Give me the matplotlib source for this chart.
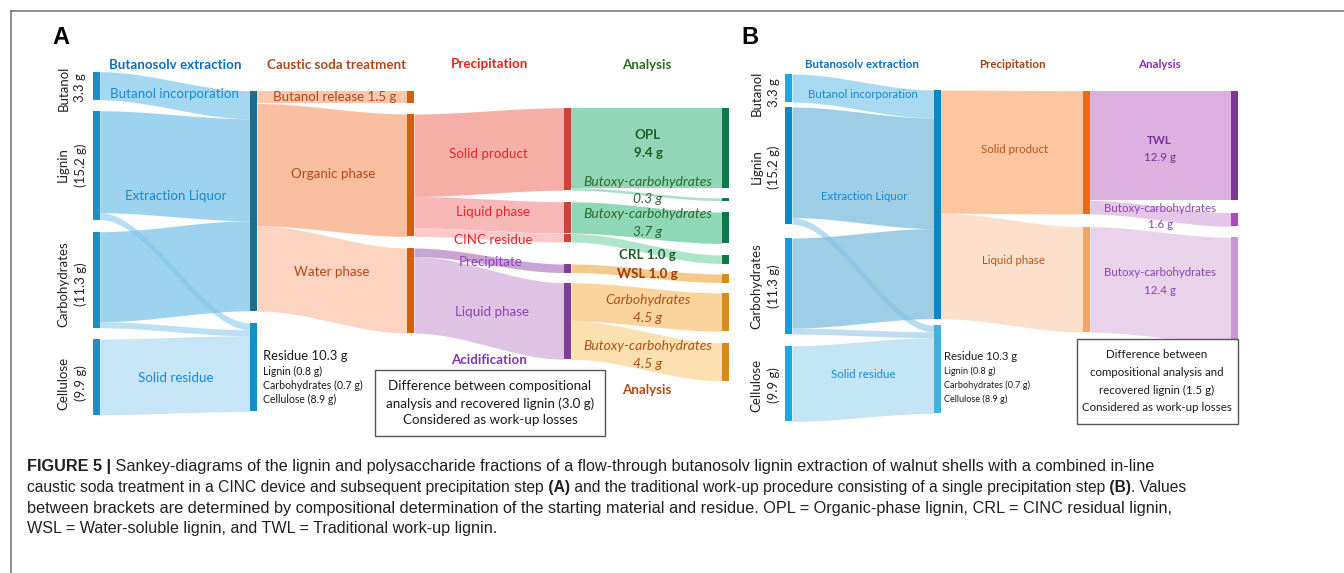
import numpy as np
import matplotlib.pyplot as plt
from matplotlib.patches import Rectangle

plt.rcParams['font.family'] = ['Lato', 'DejaVu Sans']

K = 8.5      # pixels per gram
BAR_W = 7

# ---------------- Panel A data (grams) ----------------
a_src = ['butanol', 'lignin', 'lignin', 'carbs', 'carbs', 'cellulose',
         'liquor', 'liquor', 'liquor',
         'organic', 'organic', 'organic', 'water', 'water',
         'solid', 'solid', 'liqA', 'cinc', 'precip', 'liqB', 'liqB']
a_dst = ['liquor', 'liquor', 'residue', 'liquor', 'residue', 'residue',
         'release', 'organic', 'water',
         'solid', 'liqA', 'cinc', 'precip', 'liqB',
         'opl', 'bc03', 'bc37', 'crl', 'wsl', 'carb45', 'bc45']
a_val = [3.3, 12.0, 0.8, 10.6, 0.7, 8.9,
         1.5, 14.4, 10.0,
         9.7, 3.7, 1.0, 1.0, 9.0,
         9.4, 0.3, 3.7, 1.0, 1.0, 4.5, 4.5]

# ---------------- Panel B data (grams) ----------------
b_src = ['butanol', 'lignin', 'lignin', 'carbs', 'carbs', 'cellulose',
         'liquor', 'liquor', 'solid', 'solid', 'liquid']
b_dst = ['liquor', 'liquor', 'residue', 'liquor', 'residue', 'residue',
         'solid', 'liquid', 'twl', 'bc16', 'bc124']
b_val = [3.3, 13.0, 0.8, 10.6, 0.7, 8.9,
         14.5, 12.4, 12.9, 1.6, 12.4]

input_labels = ['Butanol\n3.3 g', 'Lignin\n(15.2 g)', 'Carbohydrates\n(11.3 g)', 'Cellulose\n(9.9 g)']
residue_lines = ['Lignin (0.8 g)', 'Carbohydrates (0.7 g)', 'Cellulose (8.9 g)']

# ---------------- layout: node x, node top, bar colour ----------------
a_nodes = {
    'butanol': (92.7, 71.7, '#1a8fc9'), 'lignin': (92.7, 110.7, '#1a8fc9'),
    'carbs': (92.7, 231.7, '#1a8fc9'), 'cellulose': (92.7, 339, '#1a8fc9'),
    'liquor': (250, 90.7, '#1c6e8c'), 'residue': (250, 323, '#168ccb'),
    'release': (407, 90.7, '#d65f0e'), 'organic': (407, 114, '#d65f0e'),
    'water': (407, 248, '#d65f0e'),
    'solid': (564, 107.7, '#c8453a'), 'liqA': (564, 201.7, '#c8453a'),
    'cinc': (564, 233.5, '#c8453a'), 'precip': (564, 264, '#7d3f93'),
    'liqB': (564, 282.7, '#7d3f93'),
    'opl': (722, 107.7, '#0b7a4a'), 'bc03': (722, 198, '#0b7a4a'),
    'bc37': (722, 212, '#0b7a4a'), 'crl': (722, 255, '#0b7a4a'),
    'wsl': (722, 274, '#d98b1c'), 'carb45': (722, 293, '#d98b1c'),
    'bc45': (722, 342.7, '#d98b1c'),
}
a_cols = ['#a5d7f1', '#9dd3ef', '#7fc4e6', '#9dd3ef', '#9fd2ee', '#c6e6f7',
          '#fbc8ac', '#f9bfa0', '#fcd4c0',
          '#f6afa6', '#f9b8b8', '#fbc9c9', '#c9a3d3', '#dfc3e5',
          '#93d5b8', '#a9e0c7', '#8fd8b7', '#aee4cb', '#f5c98c', '#fbd49d', '#fde0b0']
a_alpha = [1, 1, 0.55, 1, 0.7, 1] + [1] * 15

b_nodes = {
    'butanol': (785, 74, '#1ea7e1'), 'lignin': (785, 107, '#0d87c6'),
    'carbs': (785, 238, '#0ea0dd'), 'cellulose': (785, 345.7, '#1ea7e1'),
    'liquor': (933.5, 90, '#0d87c3'), 'residue': (933.5, 325, '#4aaedb'),
    'solid': (1083, 90.7, '#ef6a10'), 'liquid': (1083, 226.7, '#f9a264'),
    'twl': (1231, 90.7, '#7b3a8b'), 'bc16': (1231, 212.7, '#a94cbf'),
    'bc124': (1231, 237.3, '#c898d4'),
}
b_cols = ['#a8daf2', '#9ecde6', '#7fc1e4', '#9ecde6', '#a0d1eb', '#c3e5f6',
          '#fdc6a0', '#fde0cc', '#dbb0de', '#e6c6e8', '#e8d3eb']
b_alpha = [1, 1, 0.55, 1, 0.7, 1, 1, 1, 1, 1, 1]


def draw_sankey(ax, src, dst, val, nodes, cols, alphas):
    size_in, size_out = {}, {}
    for s, d, v in zip(src, dst, val):
        size_out[s] = size_out.get(s, 0) + v
        size_in[d] = size_in.get(d, 0) + v
    off_out = {n: 0.0 for n in nodes}
    off_in = {n: 0.0 for n in nodes}
    # stack bands in each node; translucent crossing bands drawn last
    order = sorted(range(len(val)), key=lambda i: alphas[i] < 1)
    pos = []
    for s, d, v in zip(src, dst, val):
        h = v * K
        pos.append((nodes[s][1] + off_out[s], nodes[d][1] + off_in[d], h))
        off_out[s] += h
        off_in[d] += h
    for i in order:
        s, d = src[i], dst[i]
        ys, yd, h = pos[i]
        xs, xd = nodes[s][0] + BAR_W, nodes[d][0]
        x = np.linspace(xs, xd, 120)
        t = (x - xs) / (xd - xs)
        sm = t * t * (3 - 2 * t)
        top = ys + (yd - ys) * sm
        ax.fill_between(x, top, top + h, color=cols[i], alpha=alphas[i],
                        lw=0, zorder=1)
    for n, (x, y, c) in nodes.items():
        h = max(size_in.get(n, 0), size_out.get(n, 0)) * K
        ax.add_patch(Rectangle((x, y), BAR_W, h, color=c, lw=0, zorder=3))


fig = plt.figure(figsize=(13.44, 5.73), dpi=100)
ax = fig.add_axes([0, 0, 1, 1])
ax.set_xlim(0, 1344)
ax.set_ylim(573, 0)
ax.axis('off')

# frame
ax.plot([11, 1344], [11, 11], color='#7a7a7a', lw=1.2)
ax.plot([11, 11], [11, 573], color='#7a7a7a', lw=1.2)

draw_sankey(ax, a_src, a_dst, a_val, a_nodes, a_cols, a_alpha)
draw_sankey(ax, b_src, b_dst, b_val, b_nodes, b_cols, b_alpha)

SA, SB = 9.6, 8.3


def lab(x, y, s, color, size=SA, weight='normal', style='normal', ha='center', **kw):
    ax.text(x, y, s, color=color, fontsize=size, fontweight=weight,
            fontstyle=style, ha=ha, va='center', zorder=5, **kw)


# panel letters
ax.text(61, 37, 'A', fontsize=17, fontweight='bold', family='Liberation Sans',
        ha='center', va='center')
ax.text(750, 37, 'B', fontsize=17, fontweight='bold', family='Liberation Sans',
        ha='center', va='center')

BLUE_H, BLUE = '#0b6fc0', '#1a8ad0'
BROWN = '#b4461a'
RED = '#e3262a'
PURPLE = '#8d43b3'
GREEN_D = '#1f5f26'

# ---- panel A text ----
lab(175, 65, 'Butanosolv extraction', BLUE_H, weight='bold')
lab(337, 65, 'Caustic soda treatment', BROWN, weight='bold')
lab(490, 64, 'Precipitation', '#e5231c', weight='bold')
lab(647, 65, 'Analysis', '#2d6b22', weight='bold')

for s, yc in zip(input_labels, [88, 165, 284, 383]):
    ax.text(72, yc, s, rotation=90, ha='center', va='center', fontsize=9.5,
            color='#222222', multialignment='center', linespacing=1.5)
    ax.text(765.5, yc + (5 if yc == 88 else 2), s, rotation=90, ha='center', va='center',
            fontsize=9.5, color='#222222', multialignment='center', linespacing=1.5)

lab(174, 94, 'Butanol incorporation', BLUE)
lab(176, 196, 'Extraction Liquor', BLUE)
lab(176, 378, 'Solid residue', BLUE)
lab(335, 97, 'Butanol release 1.5 g', BROWN)
lab(333, 174, 'Organic phase', BROWN)
lab(332, 272, 'Water phase', BROWN)

lab(263, 356, 'Residue 10.3 g', '#1a1a1a', size=9.4, ha='left')
for s, yy in zip(residue_lines, [371.5, 385.5, 399.5]):
    lab(263, yy, s, '#1a1a1a', size=7.6, ha='left')
lab(944.3, 356, 'Residue 10.3 g', '#1a1a1a', size=9.4 * 0.86, ha='left')
for s, yy in zip(residue_lines, [371, 385, 399]):
    lab(944.3, yy, s, '#1a1a1a', size=7.6 * 0.86, ha='left')

lab(488.5, 154, 'Solid product', RED)
lab(492.5, 212, 'Liquid phase', RED)
lab(493, 240, 'CINC residue', RED)
lab(491, 262, 'Precipitate', PURPLE)
lab(492, 312, 'Liquid phase', PURPLE)
lab(489, 360.5, 'Acidification', '#7d35b0', weight='bold')

IT = 10
lab(648, 135, 'OPL', GREEN_D, weight='bold')
lab(648, 153, '9.4 g', GREEN_D, weight='bold')
lab(648, 182, 'Butoxy-carbohydrates', '#2c6b2c', size=IT, style='italic')
lab(648, 199, '0.3 g', '#2c6b2c', size=IT, style='italic')
lab(648, 214, 'Butoxy-carbohydrates', '#2c6b2c', size=IT, style='italic')
lab(648, 232.5, '3.7 g', '#2c6b2c', size=IT, style='italic')
lab(647.5, 255, 'CRL 1.0 g', GREEN_D, weight='bold')
lab(647.5, 273.5, 'WSL 1.0 g', '#9a3d0c', weight='bold')
lab(648, 300.5, 'Carbohydrates', '#a75418', size=IT, style='italic')
lab(648, 317.5, '4.5 g', '#a75418', size=IT, style='italic')
lab(648, 346, 'Butoxy-carbohydrates', '#a75418', size=IT, style='italic')
lab(648, 364, '4.5 g', '#a75418', size=IT, style='italic')
lab(647, 390, 'Analysis', '#b04a14', weight='bold')

ax.add_patch(Rectangle((375, 370), 230, 66, fc='white', ec='#555555', lw=1, zorder=4))
for s, yy in zip(['Difference between compositional',
                  'analysis and recovered lignin (3.0 g)',
                  'Considered as work-up losses'], [386, 403.5, 420]):
    lab(490, yy, s, '#1a1a1a', size=9.6)

# ---- panel B text ----
lab(862, 65, 'Butanosolv extraction', BLUE_H, size=SB, weight='bold')
lab(1012, 65, 'Precipitation', '#a3410f', size=SB, weight='bold')
lab(1159, 65, 'Analysis', '#8a2db0', size=SB, weight='bold')

lab(862.5, 94, 'Butanol incorporation', BLUE, size=SB)
lab(864, 197, 'Extraction Liquor', BLUE, size=SB)
lab(863.5, 374, 'Solid residue', BLUE, size=SB)
lab(1014.5, 149.5, 'Solid product', '#b5561b', size=SB)
lab(1013.5, 260.5, 'Liquid phase', '#b5561b', size=SB)
lab(1159.5, 140, 'TWL', '#7b2e9e', size=SB, weight='bold')
lab(1159.5, 157.5, '12.9 g', '#7b2e9e', size=SB)
lab(1160.5, 208.5, 'Butoxy-carbohydrates', PURPLE, size=SB)
lab(1160.5, 225, '1.6 g', PURPLE, size=SB)
lab(1160.5, 272.5, 'Butoxy-carbohydrates', PURPLE, size=SB)
lab(1160.5, 290, '12.4 g', PURPLE, size=SB)

ax.add_patch(Rectangle((1076.7, 339), 161, 85, fc='white', ec='#555555', lw=1, zorder=4))
for s, yy in zip(['Difference between', 'compositional analysis and',
                  'recovered lignin (1.5 g)', 'Considered as work-up losses'],
                 [355, 372.5, 390, 407.5]):
    lab(1157, yy, s, '#1a1a1a', size=SB)

# ---- caption (each line fitted to the width it has in the source) ----
fig.canvas.draw()
rend = fig.canvas.get_renderer()
caption = [
    [('FIGURE 5 |', True), (' Sankey-diagrams of the lignin and polysaccharide fractions of a '
                            'flow-through butanosolv lignin extraction of walnut shells with a combined in-line', False)],
    [('caustic soda treatment in a CINC device and subsequent precipitation step', False), (' (A)', True),
     (' and the traditional work-up procedure consisting of a single precipitation step', False),
     (' (B)', True), ('. Values', False)],
    [('between brackets are determined by compositional determination of the starting material and '
      'residue. OPL = Organic-phase lignin, CRL = CINC residual lignin,', False)],
    [('WSL = Water-soluble lignin, and TWL = Traditional work-up lignin.', False)],
]
line_ends = [1153, 1187, 1168, None]
CAP = 11.6


def draw_line(parts, yy, size):
    x = 27
    made = []
    for txt, bold in parts:
        t = ax.text(x, yy, txt, fontsize=size, family='Liberation Sans', color='#231f20',
                    fontweight='bold' if bold else 'normal', ha='left', va='center')
        x += t.get_window_extent(renderer=rend).width
        made.append(t)
    return made, x


for line, yy, end in zip(caption, [467, 487.5, 508, 528.5], line_ends):
    made, xe = draw_line(line, yy, CAP)
    if end is not None:
        for t in made:
            t.remove()
        draw_line(line, yy, CAP * (end - 27) / (xe - 27))

fig.savefig('out.png', dpi=100)
